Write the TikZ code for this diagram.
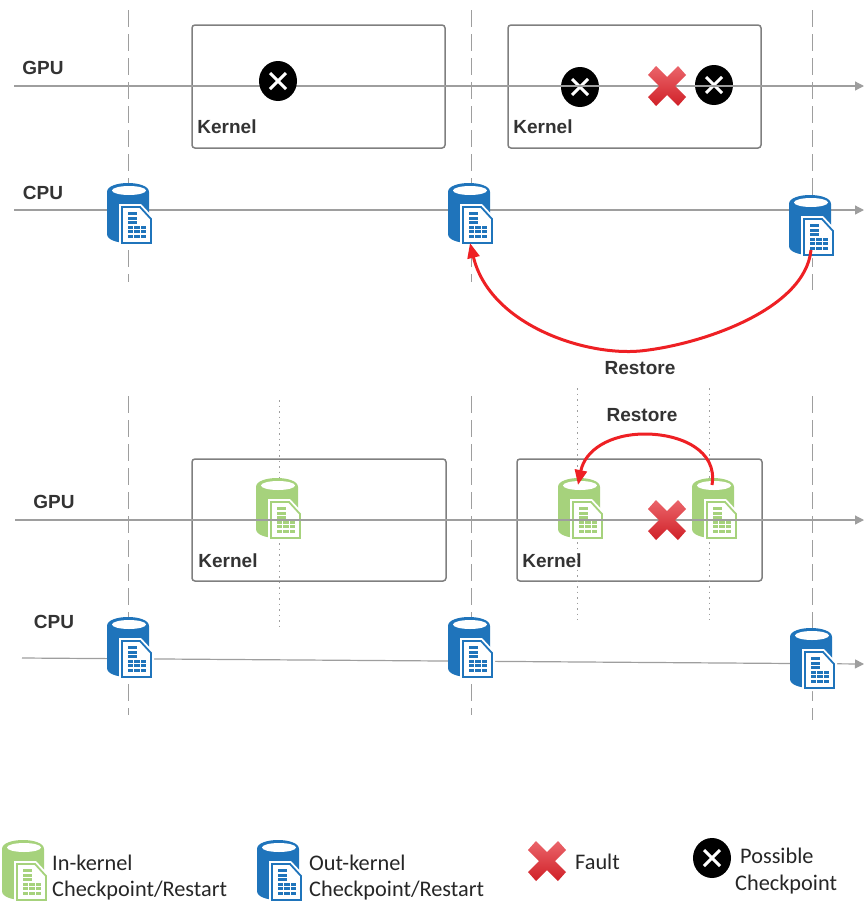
\documentclass[tikz,border=0pt]{standalone}
\usepackage{fontspec}
\setmainfont{Liberation Sans}
\newfontfamily\legendfont{Carlito}
\usetikzlibrary{arrows.meta}
\definecolor{dbblue}{HTML}{1F74BB}
\definecolor{dbgreen}{HTML}{A6D27C}
\definecolor{linegray}{HTML}{9E9E9E}
\definecolor{boxgray}{HTML}{7F7F7F}
\definecolor{restorered}{HTML}{EE2024}
\definecolor{faultred}{HTML}{E2232B}
\tikzset{
  timeline/.style={line width=1.2pt,linegray,-{Triangle[length=9pt,width=9pt]}},
  dashline/.style={line width=1pt,linegray,dash pattern=on 17pt off 7pt},
  dotline/.style={line width=1pt,linegray,dash pattern=on 1.5pt off 4pt},
  kernelbox/.style={draw=boxgray,line width=1.5pt,rounded corners=3pt,inner sep=0pt},
  lbl/.style={font=\bfseries\fontsize{19}{21}\selectfont,text=black!80,inner sep=0pt},
  legendlbl/.style={font=\legendfont\fontsize{22.3}{24}\selectfont,text=black!85,inner sep=0pt,anchor=west},
  restore/.style={line width=3pt,restorered,-{Triangle[length=15pt,width=12pt]}},
  pics/dbicon/.style={code={
    \fill[#1] (0,9) .. controls (0,-3) and (42,-3) .. (42,9) -- (42,51)
       .. controls (42,63) and (0,63) .. (0,51) -- cycle;
    \fill[white] (22,7.5) ellipse [x radius=17,y radius=4.5];
    \fill[white] (12,21) -- (34,21) -- (47,35) -- (47,63) -- (12,63) -- cycle;
    \draw[#1,line width=1.8pt,fill=white] (15,24) -- (33,24) -- (44,36) -- (44,60) -- (15,60) -- cycle;
    \foreach \ry in {29,33.5,38}
      \fill[#1] (21,\ry) rectangle ++(9,3.2);
    \foreach \c in {0,1,2}
      \foreach \ry in {42.5,47,51.5}
        \fill[#1] (21+6.4*\c,\ry) rectangle ++(5.2,3.2);
    \coordinate (-top) at (20,7);
    \coordinate (-bot) at (22,60);
  }},
  pics/faulticon/.style={code={
    \shade[top color=#1!70!white,middle color=#1,bottom color=#1!92!black]
      (-11,-20) -- (0,-9) -- (11,-20) -- (19,-11) -- (8,0) -- (19,11) -- (11,20)
      -- (0,9) -- (-11,20) -- (-19,11) -- (-8,0) -- (-19,-11) -- cycle;
  }},
  pics/ckpticon/.style={code={
    \fill[black] (0,0) ellipse [x radius=19,y radius=20];
    \draw[white,line width=3pt] (-8,-8) -- (8,8) (-8,8) -- (8,-8);
  }},
}
\begin{document}
\begin{tikzpicture}[x=1pt,y=-1pt]
\useasboundingbox (0,0) rectangle (864,903);

% coordinates for line ends
\foreach \nm/\x/\y in {gpuAl/14/86, gpuAr/864/86, cpuAl/14/210, cpuAr/864/210,
    gpuBl/15/520, gpuBr/864/520, cpuBl/22/658, cpuBr/864/664,
    dA1/128/10, dA2/128/282, dB1/471/10, dB2/471/282, dC1/812/10, dC2/812/290,
    dD1/128/396, dD2/128/715, dE1/471/396, dE2/471/715, dF1/812/396, dF2/812/720,
    dG1/279/400, dG2/279/630, dH1/577/388, dH2/577/620, dI1/709/388, dI2/709/620}
    \coordinate (\nm) at (\x,\y);

% kernel regions
\node[kernelbox,minimum width=253pt,minimum height=123pt] (boxA) at (318.5,86.5) {};
\node[kernelbox,minimum width=253pt,minimum height=123pt] (boxB) at (634.5,86.5) {};
\node[kernelbox,minimum width=254pt,minimum height=122pt] (boxC) at (319,520) {};
\node[kernelbox,minimum width=245pt,minimum height=122pt] (boxD) at (639.5,520) {};

\foreach \a/\b in {dA1/dA2, dB1/dB2, dC1/dC2, dD1/dD2, dE1/dE2, dF1/dF2}
    \draw[dashline] (\a) -- (\b);
\foreach \a/\b in {dG1/dG2, dH1/dH2, dI1/dI2}
    \draw[dotline] (\a) -- (\b);

% upper run
\pic at (580,87) {ckpticon};
\pic at (714,85) {ckpticon};
\draw[timeline] (gpuAl) -- (gpuAr);
\draw[timeline] (cpuAl) -- (cpuAr);
\draw[timeline] (cpuBl) -- (cpuBr);
\pic at (278,81) {ckpticon};
\pic at (667,86) {faulticon=faultred};
\pic (bA) at (107,183) {dbicon=dbblue};
\pic (bB) at (448,183) {dbicon=dbblue};
\pic (bC) at (789,195) {dbicon=dbblue};

% lower run
\pic (gA) at (256,478) {dbicon=dbgreen};
\pic (gB) at (558,478) {dbicon=dbgreen};
\pic (gC) at (692,478) {dbicon=dbgreen};
\draw[timeline] (gpuBl) -- (gpuBr);
\pic at (667,520) {faulticon=faultred};
\pic (bD) at (107,617) {dbicon=dbblue};
\pic (bE) at (448,617) {dbicon=dbblue};
\pic (bF) at (790,628) {dbicon=dbblue};

% restore arrows
\draw[restore] (bC-bot) ++(0,-5) .. controls (805,310) and (700,345) .. (640,351)
    .. controls (585,356) and (490,325) .. (bB-bot);
\draw[restore] (gC-top) .. controls (718,450) and (680,434) .. (645,434)
    .. controls (610,434) and (585,450) .. (gB-top);

\node[lbl] (gpuA) at (43,68) {GPU};
\node[lbl] (cpuA) at (43,193) {CPU};
\node[lbl] (gpuB) at (54,502) {GPU};
\node[lbl] (cpuB) at (54,622) {CPU};
\foreach \nm/\x/\y in {kA/227/127, kB/543/127, kC/228/561, kD/552/561}
    \node[lbl] (\nm) at (\x,\y) {Kernel};
\node[lbl] (resA) at (640,368) {Restore};
\node[lbl] (resB) at (642,415) {Restore};

% legend
\pic (lgA) at (2,840) {dbicon=dbgreen};
\pic (lgB) at (257,840) {dbicon=dbblue};
\pic at (547,861) {faulticon=faultred};
\pic at (712,858) {ckpticon};
\node[legendlbl] (leg1) at (52,863) {In-kernel};
\node[legendlbl] (leg2) at (52,891) {Checkpoint/Restart};
\node[legendlbl] (leg3) at (309,863) {Out-kernel};
\node[legendlbl] (leg4) at (309,891) {Checkpoint/Restart};
\node[legendlbl] (leg5) at (575,862) {Fault};
\node[legendlbl] (leg6) at (740,856) {Possible};
\node[legendlbl] (leg7) at (735,885) {Checkpoint};
\end{tikzpicture}
\end{document}
